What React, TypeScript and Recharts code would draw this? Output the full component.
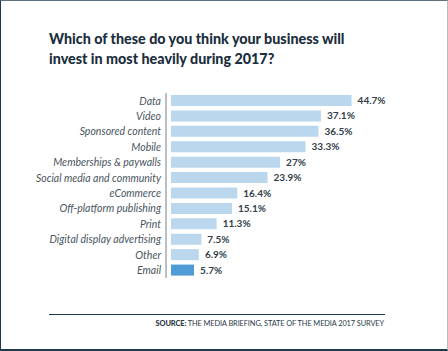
import React from "react";
import { BarChart, Bar, XAxis, YAxis, Cell, LabelList } from "recharts";

const categories = [
  "Data",
  "Video",
  "Sponsored content",
  "Mobile",
  "Memberships & paywalls",
  "Social media and community",
  "eCommerce",
  "Off-platform publishing",
  "Print",
  "Digital display advertising",
  "Other",
  "Email",
];
const values = [44.7, 37.1, 36.5, 33.3, 27, 23.9, 16.4, 15.1, 11.3, 7.5, 6.9, 5.7];
const highlighted = ["Email"];

const data = categories.map((c, i) => ({ name: c, value: values[i] }));

const LIGHT = "#bad7ee";
const DARK = "#4e9bd5";

const CategoryTick = (props: any) => {
  const { x, y, payload } = props;
  return (
    <text
      x={x}
      y={y}
      dy={3.8}
      textAnchor="end"
      fill="#4a5560"
      fontSize={10.5}
      fontStyle="italic"
      fontFamily="Lato, sans-serif"
    >
      {payload.value}
    </text>
  );
};

export default function App() {
  return (
    <div
      style={{
        position: "fixed",
        left: 0,
        top: 0,
        width: 448,
        height: 351,
        background: "#fff",
        boxSizing: "border-box",
        borderLeft: "1px solid #1e3a4e",
        borderTop: "1px solid #5b7080",
        borderRight: "1px solid #b9bdc0",
        borderBottom: "2px solid #1e3a4e",
        overflow: "hidden",
        fontFamily: "Lato, sans-serif",
      }}
    >
      <div
        style={{
          position: "absolute",
          left: 48,
          top: 28,
          fontWeight: 900,
          fontSize: 14.3,
          lineHeight: "20px",
          color: "#1b2e3d",
          letterSpacing: 0,
        }}
      >
        Which of these do you think your business will
        <br />
        invest in most heavily during 2017?
      </div>
      <div style={{ position: "absolute", left: -1, top: -1 }}>
        <BarChart
          width={448}
          height={351}
          data={data}
          layout="vertical"
          margin={{ top: 93, right: 75, bottom: 73, left: 0 }}
          barSize={11}
        >
          <XAxis type="number" domain={[0, 50]} hide padding={{ left: 5, right: 0 }} />
          <YAxis
            type="category"
            dataKey="name"
            width={166}
            tickLine={false}
            tickSize={0}
            tickMargin={5}
            axisLine={{ stroke: "#8c949a", strokeWidth: 1.2 }}
            tick={<CategoryTick />}
            interval={0}
          />
          <Bar dataKey="value" isAnimationActive={false}>
            {data.map((d) => (
              <Cell key={d.name} fill={highlighted.includes(d.name) ? DARK : LIGHT} />
            ))}
            <LabelList
              dataKey="value"
              position="right"
              offset={6}
              formatter={(v: number) => `${v}%`}
              style={{ fill: "#333f4a", fontSize: 10, fontWeight: 700, fontFamily: "Lato, sans-serif" }}
            />
          </Bar>
        </BarChart>
      </div>
      <div
        style={{
          position: "absolute",
          left: 48,
          top: 312.5,
          width: 336,
          height: 1.5,
          background: "#1e3a4e",
        }}
      />
      <div
        style={{
          position: "absolute",
          right: 448 - 385,
          top: 317.5,
          fontSize: 7.4,
          color: "#2b3a47",
          whiteSpace: "nowrap",
          letterSpacing: -0.1,
        }}
      >
        <span style={{ fontWeight: 900 }}>SOURCE:</span> THE MEDIA BRIEFING, STATE OF THE MEDIA 2017 SURVEY
      </div>
    </div>
  );
}
